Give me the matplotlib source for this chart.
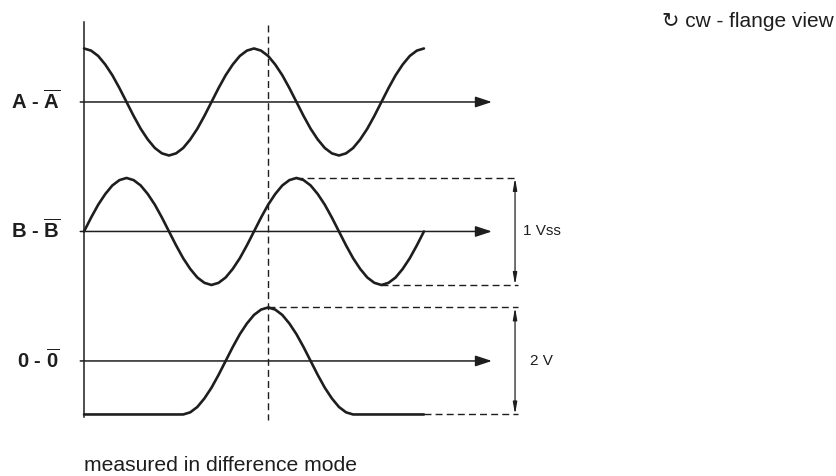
import numpy as np
import matplotlib
matplotlib.use('Agg')
from matplotlib import pyplot as plt

# electrical angle in degrees, read every 15 deg over two signal periods
angle = np.arange(0, 721, 15)

# signal levels (1 = one Vss)
a_signal = [.50, .48, .43, .35, .25, .13, 0, -.13, -.25, -.35, -.43, -.48,
            -.50, -.48, -.43, -.35, -.25, -.13, 0, .13, .25, .35, .43, .48,
            .50, .48, .43, .35, .25, .13, 0, -.13, -.25, -.35, -.43, -.48,
            -.50, -.48, -.43, -.35, -.25, -.13, 0, .13, .25, .35, .43, .48, .50]
b_signal = [0, .13, .25, .35, .43, .48, .50, .48, .43, .35, .25, .13,
            0, -.13, -.25, -.35, -.43, -.48, -.50, -.48, -.43, -.35, -.25, -.13,
            0, .13, .25, .35, .43, .48, .50, .48, .43, .35, .25, .13,
            0, -.13, -.25, -.35, -.43, -.48, -.50, -.48, -.43, -.35, -.25, -.13, 0]
zero_signal = [-.50] * 14 + [-.50, -.48, -.43, -.35, -.25, -.13, 0, .13, .25, .35, .43, .48,
                             .50, .48, .43, .35, .25, .13, 0, -.13, -.25, -.35, -.43, -.48,
                             -.50] + [-.50] * 10

channel_names = ['A', 'B', '0']
channel_offsets = [0.0, -1.21, -2.42]
signals = [a_signal, b_signal, zero_signal]

marker_angle = 390          # dashed reference line (index pulse centre)
dim_angle = 913             # where the amplitude arrows sit
dim_end = 919               # end of the dashed helper lines
# start angle of the dashed helper lines: (top, bottom) for B and 0
b_helpers = (450, 630)
zero_helpers = (390, 720)
dim_labels = ['1 Vss', '2 V']

ink = '#1e1e1e'

plt.rcParams['font.family'] = ['Liberation Sans', 'DejaVu Sans']
plt.rcParams['mathtext.fontset'] = 'custom'
plt.rcParams['mathtext.bf'] = 'Liberation Sans:bold'
plt.rcParams['mathtext.rm'] = 'Liberation Sans'

fig = plt.figure(figsize=(8.37, 4.76), dpi=100)
ax = fig.add_axes([0, 0, 1, 1])
ax.set_xlim(-178, 1595)
ax.set_ylim(-3.495, 0.953)
ax.axis('off')

# vertical axis
ax.plot([0, 0], [channel_offsets[0] + 0.75, channel_offsets[-1] - 0.52], color=ink, lw=1.1)

for name, off, sig in zip(channel_names, channel_offsets, signals):
    ax.annotate('', xy=(864, off), xytext=(-8, off),
                arrowprops=dict(arrowstyle='-|>,head_length=1.0,head_width=0.33',
                                lw=1.1, color=ink, shrinkA=0, shrinkB=0))
    ax.plot(angle, np.array(sig) + off, color=ink, lw=1.9,
            solid_joinstyle='round', solid_capstyle='round')
    ax.text(-51, off - 0.06, r'$\mathbf{%s}$ - $\overline{\mathbf{%s}}$' % (name, name),
            ha='right', va='baseline', fontsize=14.6, fontweight='bold', color=ink)

# dashed reference line
ax.plot([marker_angle, marker_angle], [channel_offsets[0] + 0.72, channel_offsets[-1] - 0.55],
        color=ink, lw=1.0, dashes=(5, 3))

# amplitude helpers for B and 0
for off, helpers, label, lx in zip(channel_offsets[1:], [b_helpers, zero_helpers],
                                   dim_labels, [930, 944]):
    top_from, bot_from = helpers
    ax.plot([top_from, dim_end], [off + 0.5, off + 0.5], color=ink, lw=1.0, dashes=(5, 3))
    ax.plot([bot_from, dim_end], [off - 0.5, off - 0.5], color=ink, lw=1.0, dashes=(5, 3))
    ax.annotate('', xy=(dim_angle, off + 0.5), xytext=(dim_angle, off - 0.5),
                arrowprops=dict(arrowstyle='<|-|>,head_length=0.7,head_width=0.12',
                                lw=0.9, color=ink, shrinkA=0, shrinkB=0))
    ax.text(lx, off, label, ha='left', va='center', fontsize=11, color=ink)

fig.text(834 / 837, 1 - 27 / 476, '\u21bb cw - flange view', ha='right', va='baseline',
         fontsize=15, color=ink)
ax.text(0, -3.449, 'measured in difference mode', ha='left', va='baseline',
        fontsize=15.2, color=ink)

fig.savefig('out.png', dpi=100)
